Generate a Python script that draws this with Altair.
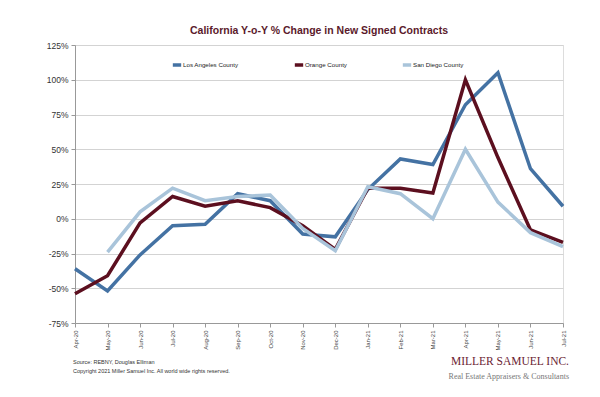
import altair as alt
import pandas as pd

months = ["Apr-20", "May-20", "Jun-20", "Jul-20", "Aug-20", "Sep-20", "Oct-20", "Nov-20",
          "Dec-20", "Jan-21", "Feb-21", "Mar-21", "Apr-21", "May-21", "Jun-21", "Jul-21"]
la = [-36, -52, -26, -5, -4, 18, 13, -11, -13, 21, 43, 39, 82, 105, 36, 9]
oc = [-54, -41, -3, 16, 9, 13, 8, -5, -22, 22, 22, 18.5, 100, 44, -8, -17]
sd = [None, -24, 5, 22, 13, 16, 17, -7, -23, 23, 18, 0, 50, 12, -10, -20]
series = ["Los Angeles County", "Orange County", "San Diego County"]
colors = ["#4472a3", "#5c0f1f", "#a9c4da"]
y_ticks = [-75, -50, -25, 0, 25, 50, 75, 100, 125]

rows = []
for name, vals in zip(series, [la, oc, sd]):
    for m, v in zip(months, vals):
        if v is not None:
            rows.append({"month": m, "county": name, "value": v})
df = pd.DataFrame(rows)

W, H = 488, 278

lines = alt.Chart(df).mark_line(strokeWidth=3.5, strokeJoin="miter").encode(
    x=alt.X("month:O", sort=months, scale=alt.Scale(type="point", padding=0),
            axis=alt.Axis(title=None, labelAngle=270, labelFontSize=6, labelColor="#444444",
                          labelFont="Liberation Sans", tickColor="#999999", tickSize=4,
                          domainColor="#999999", labelPadding=3, labelAlign="right",
                          labelBaseline="middle")),
    y=alt.Y("value:Q", scale=alt.Scale(domain=[-75, 125], nice=False, zero=False),
            axis=alt.Axis(title=None, values=y_ticks, labelExpr="datum.value + '%'",
                          labelFontSize=8.5, labelColor="#333333", labelFont="Liberation Sans",
                          gridColor="#d3d3d3", tickColor="#999999", tickSize=4,
                          domainColor="#999999", labelPadding=3)),
    color=alt.Color("county:N", sort=series,
                    scale=alt.Scale(domain=series, range=colors),
                    legend=alt.Legend(title=None, orient="none", legendX=96, legendY=14,
                                      direction="horizontal", columns=3, symbolType="stroke",
                                      symbolSize=70, symbolStrokeWidth=3.5, columnPadding=48,
                                      labelFontSize=6.2, labelFont="Liberation Sans",
                                      labelColor="#222222", labelOffset=0)),
    order=alt.Order("county:N"),
)

def txt(s, x, y, size, color, font="Liberation Sans", align="left"):
    return alt.Chart(pd.DataFrame({"t": [s]})).mark_text(
        align=align, baseline="middle", fontSize=size, color=color, font=font
    ).encode(x=alt.value(x), y=alt.value(y), text="t:N")

src = txt("Source: REBNY, Douglas Elliman", -2, 317, 5.5, "#333333")
cpy = txt("Copyright 2021 Miller Samuel Inc.  All world wide rights reserved.", -2, 326, 5.5, "#333333")
logo = txt("MILLER SAMUEL INC.", W + 6, 317, 11.5, "#6b2433", font="Liberation Serif", align="right")
sub = txt("Real Estate Appraisers & Consultants", W + 6, 332, 8, "#777777",
          font="Liberation Serif", align="right")

chart = alt.layer(lines, src, cpy, logo, sub).properties(
    width=W, height=H,
    title=alt.TitleParams("California Y-o-Y % Change in New Signed Contracts",
                          fontSize=10.5, font="Liberation Sans", fontWeight="bold",
                          color="#5b1a2b", anchor="middle", offset=5),
    autosize=alt.AutoSizeParams(type="none"),
    padding={"left": 67, "top": 37, "right": 29, "bottom": 74},
).configure_view(stroke="#999999", strokeWidth=1).configure(background="white")

chart.save("out.html", embed_options={"renderer": "svg", "actions": False})
